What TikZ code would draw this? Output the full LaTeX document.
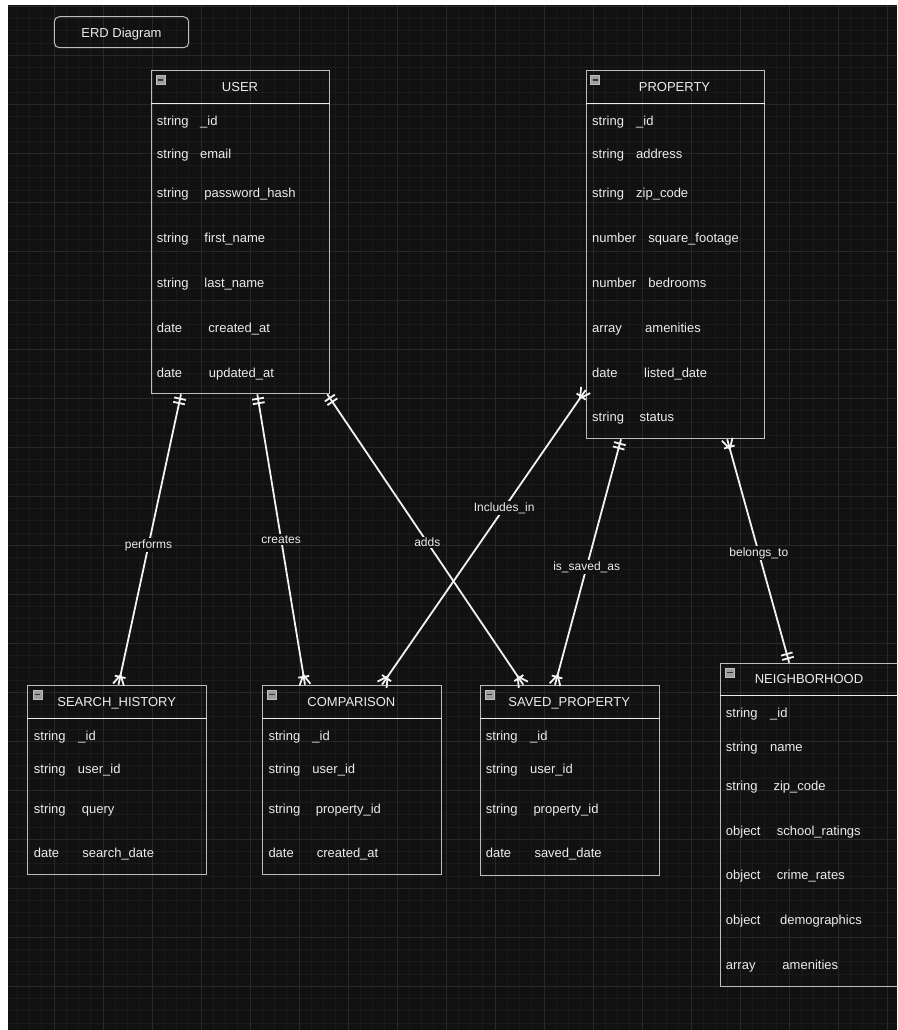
\documentclass[tikz,border=0pt]{standalone}
\usepackage{fontspec}
\setmainfont{Liberation Sans}
\definecolor{canvas}{HTML}{111111}
\definecolor{gridminor}{HTML}{1A1A1A}
\definecolor{gridmajor}{HTML}{282828}
\definecolor{frame}{HTML}{BDBDBD}
\definecolor{ink}{HTML}{ECECEC}
\definecolor{wire}{HTML}{F2F2F2}
\usetikzlibrary{arrows.meta,positioning,calc}

% ER ends: two bars = exactly one, bar + fork = one or many
\pgfdeclarearrow{
  name = ERone,
  setup code = {
    \pgfarrowssettipend{0pt}
    \pgfarrowssetlineend{0pt}
    \pgfarrowssetbackend{-10pt}
    \pgfarrowssetvisualbackend{-10pt}
    \pgfarrowsupperhullpoint{-10pt}{6pt}
    \pgfarrowsupperhullpoint{0pt}{6pt}
  },
  drawing code = {
    \pgfpathmoveto{\pgfqpoint{-4.5pt}{-6pt}}
    \pgfpathlineto{\pgfqpoint{-4.5pt}{6pt}}
    \pgfpathmoveto{\pgfqpoint{-9pt}{-6pt}}
    \pgfpathlineto{\pgfqpoint{-9pt}{6pt}}
    \pgfusepathqstroke
  }
}
\pgfdeclarearrow{
  name = ERmany,
  setup code = {
    \pgfarrowssettipend{0pt}
    \pgfarrowssetlineend{0pt}
    \pgfarrowssetbackend{-11pt}
    \pgfarrowssetvisualbackend{-11pt}
    \pgfarrowsupperhullpoint{-11pt}{6pt}
    \pgfarrowsupperhullpoint{0pt}{6pt}
  },
  drawing code = {
    \pgfpathmoveto{\pgfqpoint{-8pt}{-5.5pt}}
    \pgfpathlineto{\pgfqpoint{-8pt}{5.5pt}}
    \pgfpathmoveto{\pgfqpoint{0pt}{5.5pt}}
    \pgfpathlineto{\pgfqpoint{-10pt}{0pt}}
    \pgfpathlineto{\pgfqpoint{0pt}{-5.5pt}}
    \pgfusepathqstroke
  }
}

\newcommand{\erfield}[3]{\makebox[#1][l]{#2}#3}

\tikzset{
  entity/.style={draw=frame, line width=1pt, inner sep=0pt, anchor=north west},
  hdrline/.style={draw=ink, line width=1pt},
  etitle/.style={text=ink, font=\fontsize{13pt}{15pt}\selectfont, inner sep=0pt,
    text height=11pt, text depth=0pt},
  attr/.style={etitle, anchor=west},
  tog/.style={draw=frame, fill=black!38, line width=.5pt, minimum width=9pt,
    minimum height=8.5pt, inner sep=0pt,
    path picture={\draw[black!80, line width=1.3pt]
      ([xshift=1.8pt]path picture bounding box.west) --
      ([xshift=-1.8pt]path picture bounding box.east);}},
  titlebox/.style={draw=frame, line width=1pt, rounded corners=5pt, text=ink,
    font=\fontsize{13pt}{15pt}\selectfont, minimum width=134.4pt, minimum height=31pt,
    text height=11pt, text depth=0pt},
  conn/.style={draw=wire, line width=1.8pt},
  rel/.style={fill=canvas, text=ink, font=\fontsize{12pt}{14pt}\selectfont, inner sep=1.5pt},
}

\begin{document}
\begin{tikzpicture}[x=1pt, y=-1pt]
    \useasboundingbox (0,0) rectangle (897,1030);
    \clip (0,0) rectangle (897,1030);
    \fill[white] (0,0) rectangle (897,1030);
    \fill[canvas] (8,5) rectangle (897,1030);
    % grid
    \begin{scope}[shift={(5,6.3)}]
        \draw[gridminor, line width=.8pt, step=12.25pt] (3,1023.7) grid (892,-1.3);
        \draw[gridmajor, line width=.9pt, step=49pt] (3,1023.7) grid (892,-1.3);
    \end{scope}

    \node[titlebox] (title) at (121.5,32.2) {ERD Diagram};

    % USER
    \node[entity, minimum width=178.3pt, minimum height=323.3pt] (user) at (151,70) {};
    \draw[hdrline] ([yshift=-33.3pt]user.north west) -- ([yshift=-33.3pt]user.north east);
    \node[tog] (user-tog) at ([xshift=9.5pt,yshift=-10pt]user.north west) {};
    \node[etitle] (user-t) at (240,85.7) {USER};
    \node[attr] (u1) at (156.7,120) {\erfield{43.3pt}{string}{\_id}};
    \node[attr] (u2) at (156.7,153.3) {\erfield{43.3pt}{string}{email}};
    \node[attr] (u3) at (156.7,192.3) {\erfield{47.6pt}{string}{password\_hash}};
    \node[attr] (u4) at (156.7,236.7) {\erfield{47.6pt}{string}{first\_name}};
    \node[attr] (u5) at (156.7,281.7) {\erfield{47.6pt}{string}{last\_name}};
    \node[attr] (u6) at (156.7,326.7) {\erfield{51.6pt}{date}{created\_at}};
    \node[attr] (u7) at (156.7,371.7) {\erfield{52pt}{date}{updated\_at}};

    % PROPERTY
    \node[entity, minimum width=178.6pt, minimum height=368.3pt] (property) at (585.7,70) {};
    \draw[hdrline] ([yshift=-33.3pt]property.north west) -- ([yshift=-33.3pt]property.north east);
    \node[tog] (property-tog) at ([xshift=9.5pt,yshift=-10pt]property.north west) {};
    \node[etitle] (property-t) at (674.5,85.7) {PROPERTY};
    \node[attr] (p1) at (592,120) {\erfield{44pt}{string}{\_id}};
    \node[attr] (p2) at (592,153.3) {\erfield{44pt}{string}{address}};
    \node[attr] (p3) at (592,192.3) {\erfield{44pt}{string}{zip\_code}};
    \node[attr] (p4) at (592,236.7) {\erfield{56.3pt}{number}{square\_footage}};
    \node[attr] (p5) at (592,281.7) {\erfield{56.3pt}{number}{bedrooms}};
    \node[attr] (p6) at (592,326.7) {\erfield{53pt}{array}{amenities}};
    \node[attr] (p7) at (592,371.7) {\erfield{52pt}{date}{listed\_date}};
    \node[attr] (p8) at (592,416) {\erfield{47.3pt}{string}{status}};

    % SEARCH_HISTORY
    \node[entity, minimum width=178.7pt, minimum height=189.7pt] (search) at (27.3,684.7) {};
    \draw[hdrline] ([yshift=-33.6pt]search.north west) -- ([yshift=-33.6pt]search.north east);
    \node[tog] (search-tog) at ([xshift=10pt,yshift=-10pt]search.north west) {};
    \node[etitle] (search-t) at (116.7,701) {SEARCH\_HISTORY};
    \node[attr] (s1) at (33.7,735) {\erfield{44.6pt}{string}{\_id}};
    \node[attr] (s2) at (33.7,768.3) {\erfield{44pt}{string}{user\_id}};
    \node[attr] (s3) at (33.7,807.7) {\erfield{48pt}{string}{query}};
    \node[attr] (s4) at (33.7,852.3) {\erfield{48.6pt}{date}{search\_date}};

    % COMPARISON
    \node[entity, minimum width=178.7pt, minimum height=189.7pt] (comparison) at (262,684.7) {};
    \draw[hdrline] ([yshift=-33.6pt]comparison.north west) -- ([yshift=-33.6pt]comparison.north east);
    \node[tog] (comparison-tog) at ([xshift=10pt,yshift=-10pt]comparison.north west) {};
    \node[etitle] (comparison-t) at (351.4,701) {COMPARISON};
    \node[attr] (c1) at (268.3,735) {\erfield{44pt}{string}{\_id}};
    \node[attr] (c2) at (268.3,768.3) {\erfield{44pt}{string}{user\_id}};
    \node[attr] (c3) at (268.3,807.7) {\erfield{47.4pt}{string}{property\_id}};
    \node[attr] (c4) at (268.3,852.3) {\erfield{48.4pt}{date}{created\_at}};

    % SAVED_PROPERTY
    \node[entity, minimum width=179pt, minimum height=190pt] (saved) at (479.7,684.7) {};
    \draw[hdrline] ([yshift=-33.6pt]saved.north west) -- ([yshift=-33.6pt]saved.north east);
    \node[tog] (saved-tog) at ([xshift=10pt,yshift=-10pt]saved.north west) {};
    \node[etitle] (saved-t) at (569.2,701) {SAVED\_PROPERTY};
    \node[attr] (sp1) at (485.7,735) {\erfield{44.3pt}{string}{\_id}};
    \node[attr] (sp2) at (485.7,768.3) {\erfield{44.3pt}{string}{user\_id}};
    \node[attr] (sp3) at (485.7,807.7) {\erfield{47.6pt}{string}{property\_id}};
    \node[attr] (sp4) at (485.7,852.3) {\erfield{48.6pt}{date}{saved\_date}};

    % NEIGHBORHOOD
    \node[entity, minimum width=179pt, minimum height=323.3pt] (hood) at (719.5,662.7) {};
    \draw[hdrline] ([yshift=-32.8pt]hood.north west) -- ([yshift=-32.8pt]hood.north east);
    \node[tog] (hood-tog) at ([xshift=10.5pt,yshift=-10pt]hood.north west) {};
    \node[etitle] (hood-t) at (809,678.3) {NEIGHBORHOOD};
    \node[attr] (n1) at (725.7,712.3) {\erfield{44.3pt}{string}{\_id}};
    \node[attr] (n2) at (725.7,746) {\erfield{44.3pt}{string}{name}};
    \node[attr] (n3) at (725.7,785) {\erfield{47.6pt}{string}{zip\_code}};
    \node[attr] (n4) at (725.7,830) {\erfield{51pt}{object}{school\_ratings}};
    \node[attr] (n5) at (725.7,874.3) {\erfield{51pt}{object}{crime\_rates}};
    \node[attr] (n6) at (725.7,919.3) {\erfield{54.3pt}{object}{demographics}};
    \node[attr] (n7) at (725.7,964) {\erfield{56.6pt}{array}{amenities}};

    % relations
    \draw[conn, {ERone}-{ERmany}] ([xshift=30pt]user.south west)
        -- node[rel, pos=.52] (performs) {performs} ([xshift=91.2pt]search.north west);
    \draw[conn, {ERone}-{ERmany}] ([xshift=106.3pt]user.south west)
        -- node[rel, pos=.5] (creates) {creates} ([xshift=43pt]comparison.north west);
    \draw[conn, {ERone}-{ERmany}] ([xshift=-3pt]user.south east)
        -- node[rel, pos=.51] (adds) {adds} ([xshift=43.6pt]saved.north west);
    \draw[conn, {ERmany}-{ERmany}] ([yshift=-320pt]property.north west)
        -- node[rel, pos=.4] (includes) {Includes\_in} ([xshift=120pt]comparison.north west);
    \draw[conn, {ERone}-{ERmany}] ([xshift=35.3pt]property.south west)
        -- node[rel, pos=.52] (savedas) {is\_saved\_as} ([xshift=75.3pt]saved.north west);
    \draw[conn, {ERmany}-{ERone}] ([xshift=141.5pt]property.south west)
        -- node[rel, pos=.51] (belongs) {belongs\_to} ([xshift=69.7pt]hood.north west);
\end{tikzpicture}
\end{document}
